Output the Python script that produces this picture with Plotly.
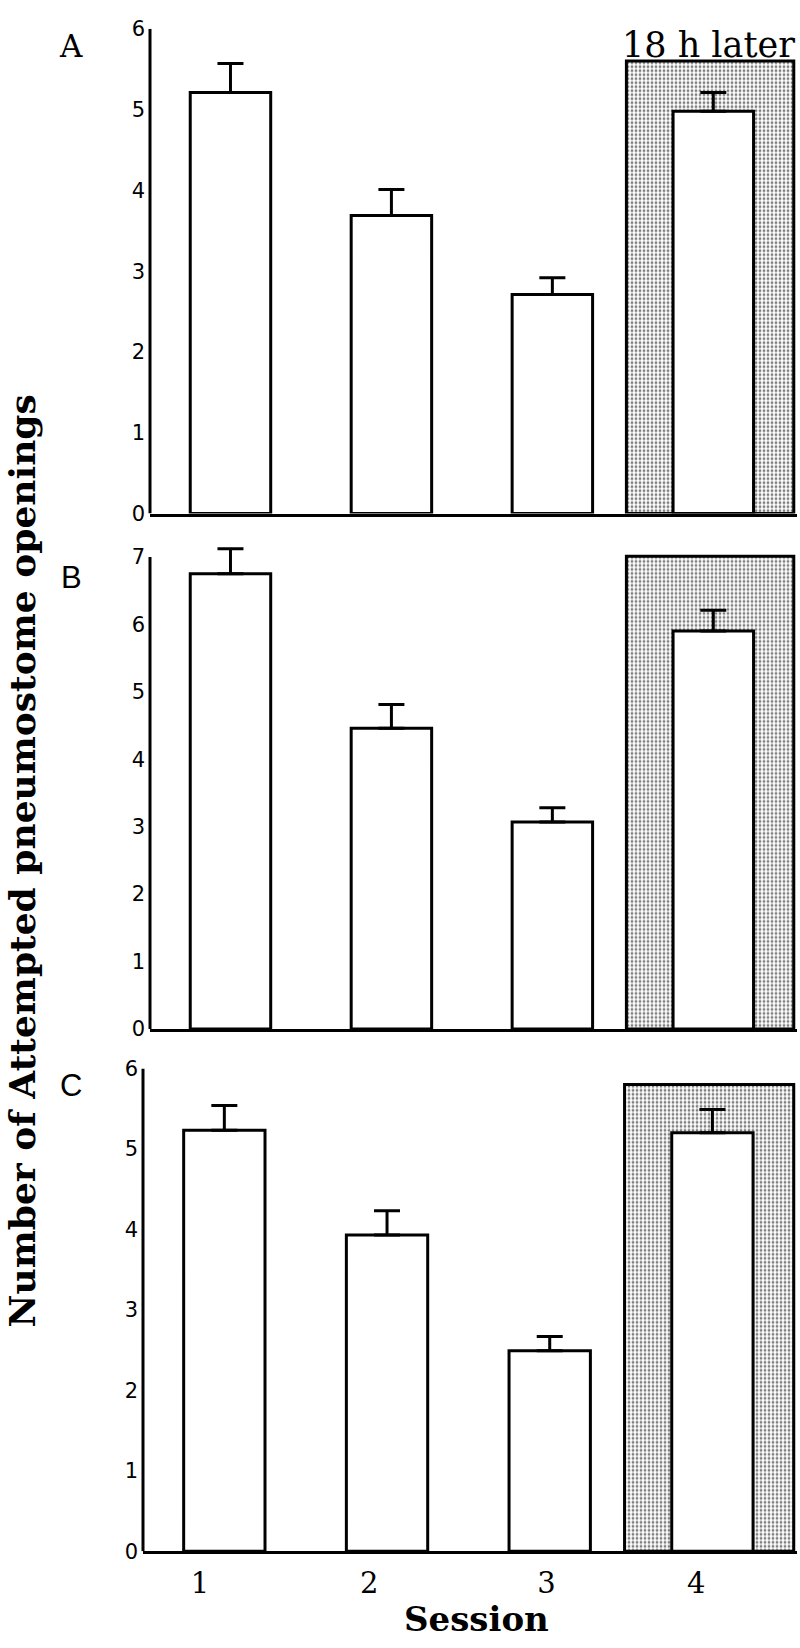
import plotly.graph_objects as go

# Session numbers and mean counts (with SEM) for the three panels
sessions = [1, 2, 3, 4]

means_a = [5.21, 3.69, 2.71, 4.98]
sem_a = [0.36, 0.32, 0.21, 0.23]
later_a = [5.60]

means_b = [6.75, 4.46, 3.07, 5.90]
sem_b = [0.37, 0.35, 0.21, 0.31]
later_b = [7.01]

means_c = [5.23, 3.93, 2.49, 5.20]
sem_c = [0.31, 0.30, 0.18, 0.29]
later_c = [5.80]

session_labels = ["1", "2", "3", "4"]
y_title = "Number of Attempted pneumostome openings"

W, H = 800, 1648
SESSION_TICK_POS = [0.85, 1.89, 2.98, 3.90]
X_RANGE = [0.5, 4.52]


def px_x(v):
    return v / W


def px_y(v):
    return 1 - v / H


# (means, sem, shaded box, axis top, x domain px, y px of axis top / zero, letter, letter font, letter y)
panels = [
    (means_a, sem_a, later_a, 6, (150, 797), (17, 509), "A", "DejaVu Serif", 35),
    (means_b, sem_b, later_b, 7, (150, 797), (553, 1032), "B", "Liberation Sans", 574),
    (means_c, sem_c, later_c, 6, (143, 797), (1072, 1562), "C", "Liberation Sans", 1089),
]

fig = go.Figure()
annotations = []
shapes = []

for i, (means, sem, later, ymax, xdom, ydom, letter, lfont, ly) in enumerate(panels, start=1):
    sfx = "" if i == 1 else str(i)
    xa, ya = "x" + sfx, "y" + sfx

    # dotted "18 h later" box behind session 4
    fig.add_trace(
        go.Bar(
            x=[sessions[-1]],
            y=later,
            width=1.04,
            offset=-0.54,
            marker=dict(
                color="white",
                line=dict(color="black", width=3),
                pattern=dict(shape=".", fgcolor="black", bgcolor="white", size=4, solidity=0.4),
            ),
            xaxis=xa,
            yaxis=ya,
            showlegend=False,
            hoverinfo="skip",
        )
    )
    fig.add_trace(
        go.Bar(
            x=sessions,
            y=means,
            width=0.5,
            marker=dict(color="white", line=dict(color="black", width=3)),
            error_y=dict(
                type="data",
                symmetric=False,
                array=sem,
                arrayminus=[0] * len(sem),
                color="black",
                thickness=3,
                width=13,
            ),
            xaxis=xa,
            yaxis=ya,
            showlegend=False,
        )
    )

    # extra y range so error caps above the axis top are not clipped
    headroom = max(0.0, max(m + e for m, e in zip(means, sem)) - ymax + 0.08)
    top_px, zero_px = ydom
    unit = (zero_px - top_px) / ymax
    top_ext = top_px - headroom * unit

    fig.layout["xaxis" + sfx] = dict(
        domain=[px_x(xdom[0]), px_x(xdom[1])],
        range=X_RANGE,
        anchor=ya,
        showline=True,
        linecolor="black",
        linewidth=3,
        showgrid=False,
        zeroline=False,
        ticks="",
        showticklabels=(i == 3),
        tickmode="array",
        tickvals=SESSION_TICK_POS,
        ticktext=session_labels,
        tickfont=dict(family="DejaVu Serif", size=29, color="black"),
        ticklabelstandoff=4,
        fixedrange=True,
    )
    fig.layout["yaxis" + sfx] = dict(
        domain=[px_y(zero_px), px_y(top_ext)],
        range=[0, ymax + headroom],
        anchor=xa,
        showline=False,
        showgrid=False,
        zeroline=False,
        ticks="",
        tickmode="array",
        tickvals=list(range(ymax + 1)),
        tickfont=dict(family="DejaVu Sans", size=21, color="black"),
        ticklabelstandoff=4,
        fixedrange=True,
    )
    # y axis line stops at the top tick, like the original
    shapes.append(
        dict(
            type="line",
            xref=xa + " domain",
            yref=ya,
            x0=0,
            x1=0,
            y0=0,
            y1=ymax,
            line=dict(color="black", width=3),
        )
    )

    annotations.append(
        dict(
            text=letter,
            x=px_x(71),
            y=px_y(ly),
            xref="paper",
            yref="paper",
            showarrow=False,
            xanchor="center",
            yanchor="middle",
            font=dict(family=lfont, size=31, color="black"),
        )
    )

annotations += [
    dict(
        text="18 h later",
        x=px_x(708),
        y=px_y(33),
        xref="paper",
        yref="paper",
        showarrow=False,
        xanchor="center",
        yanchor="middle",
        font=dict(family="DejaVu Serif", size=35, color="black"),
    ),
    dict(
        text="<b>Session</b>",
        x=px_x(477),
        y=px_y(1631),
        xref="paper",
        yref="paper",
        showarrow=False,
        xanchor="center",
        yanchor="middle",
        font=dict(family="DejaVu Serif", size=34, color="black"),
    ),
    dict(
        text=f"<b>{y_title}</b>",
        x=px_x(22),
        y=px_y(862),
        xref="paper",
        yref="paper",
        showarrow=False,
        textangle=-90,
        xanchor="center",
        yanchor="middle",
        font=dict(family="DejaVu Serif", size=36, color="black"),
    ),
]

fig.update_layout(
    width=W,
    height=H,
    margin=dict(l=0, r=0, t=0, b=0),
    barmode="overlay",
    paper_bgcolor="white",
    plot_bgcolor="white",
    annotations=annotations,
    shapes=shapes,
    showlegend=False,
)

fig.write_html(
    "out.html",
    config={"displayModeBar": False},
    post_script="document.body.style.margin = '0';",
)
